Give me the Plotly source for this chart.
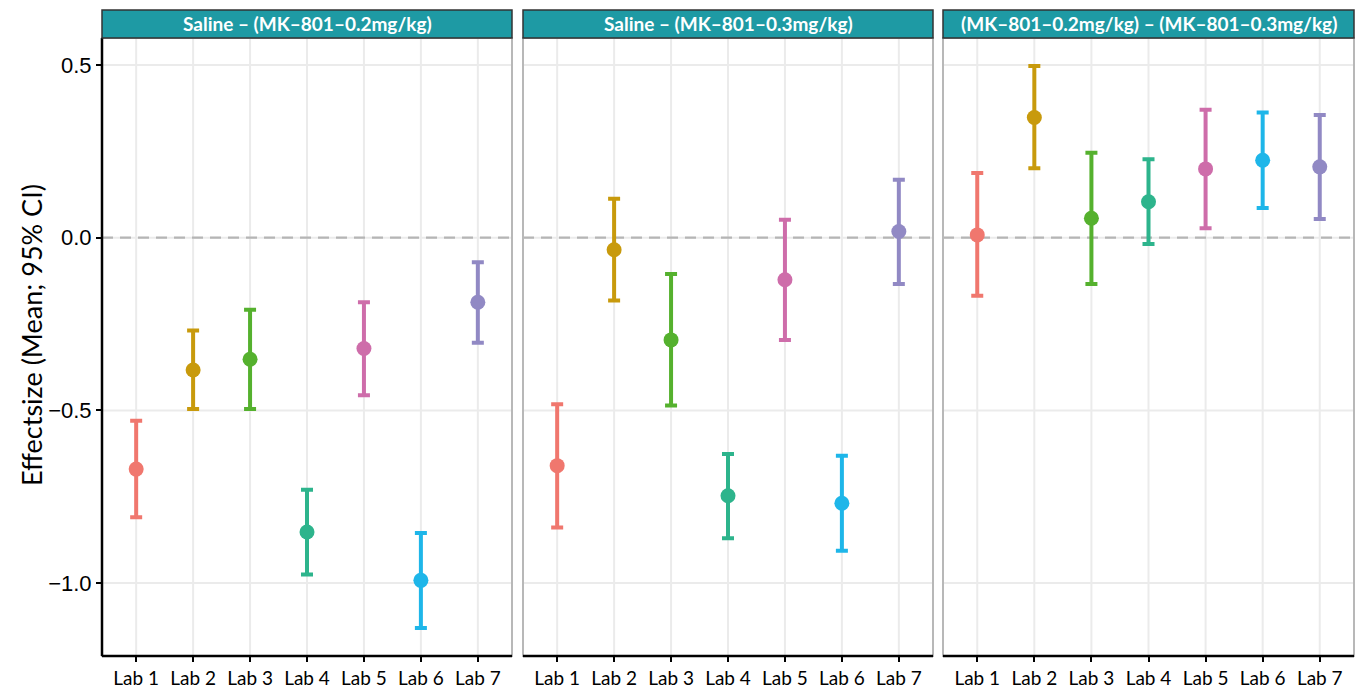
import plotly.graph_objects as go

W, H = 1361, 692

labs = ["Lab 1", "Lab 2", "Lab 3", "Lab 4", "Lab 5", "Lab 6", "Lab 7"]
lab_colors = ["#F0776E", "#C89A0C", "#55B12E", "#2DB48C", "#CE6DAA", "#1EB6E9", "#9189C4"]
panel_titles = [
    "Saline – (MK–801–0.2mg/kg)",
    "Saline – (MK–801–0.3mg/kg)",
    "(MK–801–0.2mg/kg) – (MK–801–0.3mg/kg)",
]

# effect size means and 95% CI bounds per panel
mean_p1 = [-0.670, -0.383, -0.352, -0.852, -0.321, -0.992, -0.187]
lo_p1 = [-0.809, -0.496, -0.496, -0.975, -0.456, -1.130, -0.304]
hi_p1 = [-0.530, -0.269, -0.209, -0.730, -0.187, -0.855, -0.071]

mean_p2 = [-0.660, -0.035, -0.296, -0.747, -0.122, -0.769, 0.018]
lo_p2 = [-0.839, -0.182, -0.486, -0.870, -0.296, -0.906, -0.134]
hi_p2 = [-0.482, 0.113, -0.105, -0.626, 0.052, -0.631, 0.168]

mean_p3 = [0.008, 0.348, 0.056, 0.104, 0.199, 0.224, 0.205]
lo_p3 = [-0.168, 0.201, -0.134, -0.018, 0.027, 0.086, 0.054]
hi_p3 = [0.187, 0.497, 0.246, 0.227, 0.370, 0.362, 0.355]

y_tickvals = [-1.0, -0.5, 0.0, 0.5]
y_ticktext = ["−1.0", "−0.5", "0.0", "0.5"]
y_title = "Effectsize (Mean; 95% CI)"

panels = [(mean_p1, lo_p1, hi_p1), (mean_p2, lo_p2, hi_p2), (mean_p3, lo_p3, hi_p3)]

# layout in page pixels
panel_px = [(102, 512), (523, 933), (943, 1354)]
plot_top, plot_bot = 38, 656
strip_top = 10
y_range = [-1.211, 0.578]


def fx(px):
    return px / W


def fy(py):
    return 1 - py / H


fig = go.Figure()

for p, (m, lo, hi) in enumerate(panels):
    xa = "x" if p == 0 else f"x{p+1}"
    ya = "y" if p == 0 else f"y{p+1}"
    for i, lab in enumerate(labs):
        fig.add_trace(go.Scatter(
            x=[lab], y=[m[i]],
            mode="markers",
            marker=dict(color=lab_colors[i], size=15, line=dict(width=0)),
            error_y=dict(type="data", symmetric=False,
                         array=[hi[i] - m[i]], arrayminus=[m[i] - lo[i]],
                         color=lab_colors[i], thickness=4, width=6),
            xaxis=xa, yaxis=ya, showlegend=False, hoverinfo="skip",
        ))

layout = dict(
    width=W, height=H,
    margin=dict(l=0, r=0, t=0, b=0),
    paper_bgcolor="white", plot_bgcolor="white",
    showlegend=False,
)

GRID = "#EBEBEB"
shapes = []
annotations = []
for p, (x0, x1) in enumerate(panel_px):
    sfx = "" if p == 0 else str(p + 1)
    layout[f"xaxis{sfx}"] = dict(
        domain=[fx(x0), fx(x1)],
        type="category", categoryorder="array", categoryarray=labs,
        range=[-0.6, 6.6],
        showgrid=False,
        zeroline=False, showline=False,
        ticks="outside", ticklen=5, tickwidth=1.5, tickcolor="black",
        tickfont=dict(family="Lato, Open Sans, sans-serif", size=19, color="black"),
        anchor="y" if p == 0 else f"y{p+1}",
        fixedrange=True,
    )
    layout[f"yaxis{sfx}"] = dict(
        domain=[fy(plot_bot), fy(plot_top)],
        range=y_range,
        tickvals=y_tickvals, ticktext=y_ticktext,
        showgrid=False,
        zeroline=False, showline=False,
        ticks="outside" if p == 0 else "", ticklen=5, tickwidth=1.5, tickcolor="black",
        showticklabels=(p == 0),
        tickfont=dict(family="Liberation Sans, Arial, sans-serif", size=22, color="black"),
        anchor="x" if p == 0 else f"x{p+1}",
        fixedrange=True,
    )
    xr = f"x{sfx} domain"
    yr = f"y{sfx} domain"
    xd = f"x{sfx}"
    yd = f"y{sfx}"
    # grid lines (drawn as shapes so the dashed zero line can sit on top)
    for lab in labs:
        shapes.append(dict(type="line", xref=xd, yref=yr, x0=lab, x1=lab, y0=0, y1=1,
                           line=dict(color=GRID, width=2), layer="below"))
    for tv in y_tickvals:
        shapes.append(dict(type="line", xref=xr, yref=yd, x0=0, x1=1, y0=tv, y1=tv,
                           line=dict(color=GRID, width=2), layer="below"))
    # dashed zero line
    shapes.append(dict(type="line", xref=xr, yref=yd, x0=0, x1=1, y0=0, y1=0,
                       line=dict(color="#B5B5B5", width=2.2, dash="11px,7px"), layer="below"))
    # panel border (gray)
    shapes.append(dict(type="rect", xref=xr, yref=yr, x0=0, x1=1, y0=0, y1=1,
                       line=dict(color="#B8B8B8", width=2), fillcolor="rgba(0,0,0,0)", layer="above"))
    # black bottom axis line
    shapes.append(dict(type="line", xref=xr, yref=yr, x0=0, x1=1, y0=0, y1=0,
                       line=dict(color="black", width=2.5), layer="above"))
    if p == 0:
        shapes.append(dict(type="line", xref=xr, yref=yr, x0=0, x1=0, y0=0, y1=1,
                           line=dict(color="black", width=2.5), layer="above"))
    # strip
    shapes.append(dict(type="rect", xref="paper", yref="paper",
                       x0=fx(x0), x1=fx(x1), y0=fy(plot_top), y1=fy(strip_top),
                       line=dict(color="#333333", width=1.5), fillcolor="#1E9AA4", layer="above"))
    annotations.append(dict(xref="paper", yref="paper",
                            x=fx((x0 + x1) / 2), y=fy((strip_top + plot_top) / 2),
                            text=f"<b>{panel_titles[p]}</b>", showarrow=False,
                            xanchor="center", yanchor="middle",
                            font=dict(family="Lato, Open Sans, sans-serif", size=19, color="white")))

annotations.append(dict(xref="paper", yref="paper", x=fx(31), y=fy(335),
                        text=y_title, textangle=-90, showarrow=False,
                        xanchor="center", yanchor="middle",
                        font=dict(family="Lato, Open Sans, sans-serif", size=27, color="black")))

layout["shapes"] = shapes
layout["annotations"] = annotations
fig.update_layout(**layout)

fig.write_html("out.html",
               config={"displayModeBar": False},
               post_script="document.body.style.margin='0px';document.body.style.overflow='hidden';")
